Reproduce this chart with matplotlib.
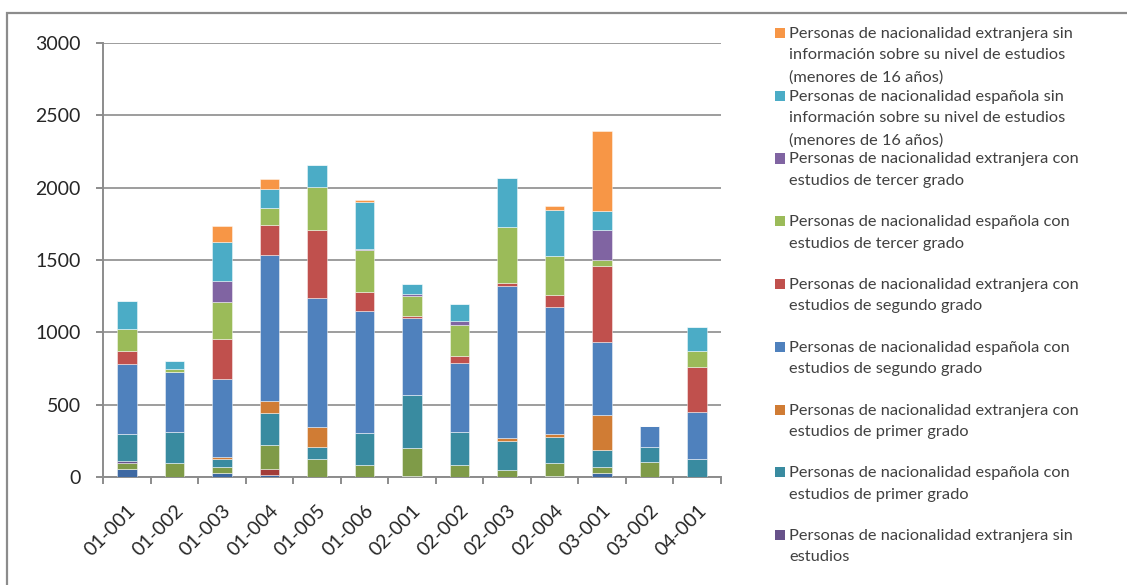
import matplotlib
matplotlib.use("Agg")
import matplotlib.pyplot as plt
from matplotlib.patches import Rectangle
import numpy as np

plt.rcParams['font.family'] = ['Lato', 'DejaVu Sans']

categories = ['01-001', '01-002', '01-003', '01-004', '01-005', '01-006', '02-001',
              '02-002', '02-003', '02-004', '03-001', '03-002', '04-001']

# Population by nationality and education level (stacked bottom to top)
esp_analf   = [53, 3, 30, 15, 0, 0, 9, 0, 0, 9, 30, 0, 0]
ext_analf   = [0, 0, 0, 38, 0, 0, 0, 0, 0, 0, 0, 0, 0]
esp_sin     = [45, 92, 41, 168, 126, 81, 189, 81, 48, 85, 41, 106, 0]
ext_sin     = [14, 0, 0, 0, 0, 0, 0, 0, 0, 0, 0, 0, 0]
esp_primer  = [184, 215, 51, 218, 83, 220, 372, 231, 200, 184, 115, 103, 122]
ext_primer  = [0, 0, 16, 87, 138, 0, 0, 0, 21, 16, 242, 0, 0]
esp_segundo = [488, 414, 536, 1010, 892, 846, 529, 474, 1048, 881, 505, 143, 328]
ext_segundo = [87, 0, 280, 204, 471, 131, 16, 49, 23, 80, 524, 0, 311]
esp_tercer  = [150, 20, 253, 120, 297, 288, 138, 215, 386, 274, 44, 0, 110]
ext_tercer  = [0, 0, 147, 0, 0, 8, 14, 31, 0, 0, 207, 0, 0]
esp_menores = [195, 60, 272, 131, 153, 326, 66, 112, 341, 317, 133, 0, 166]
ext_menores = [0, 0, 110, 71, 0, 16, 0, 0, 0, 30, 550, 0, 0]

series = [esp_analf, ext_analf, esp_sin, ext_sin, esp_primer, ext_primer,
          esp_segundo, ext_segundo, esp_tercer, ext_tercer, esp_menores, ext_menores]

labels = [
    "Personas de nacionalidad española\nanalfabetas",
    "Personas de nacionalidad extranjera\nanalfabetas",
    "Personas de nacionalidad española sin\nestudios",
    "Personas de nacionalidad extranjera sin\nestudios",
    "Personas de nacionalidad española con\nestudios de primer grado",
    "Personas de nacionalidad extranjera con\nestudios de primer grado",
    "Personas de nacionalidad española con\nestudios de segundo grado",
    "Personas de nacionalidad extranjera con\nestudios de segundo grado",
    "Personas de nacionalidad española con\nestudios de tercer grado",
    "Personas de nacionalidad extranjera con\nestudios de tercer grado",
    "Personas de nacionalidad española sin\ninformación sobre su nivel de estudios\n(menores de 16 años)",
    "Personas de nacionalidad extranjera sin\ninformación sobre su nivel de estudios\n(menores de 16 años)",
]

colors = ['#3D68A2', '#A33D3A', '#7F9B48', '#67528A', '#398BA0', '#D07C34',
          '#4F81BD', '#C0504D', '#9BBB59', '#8064A2', '#4BACC6', '#F79646']

W, H = 1127, 585
fig = plt.figure(figsize=(W / 100, H / 100), dpi=100)
fig.patch.set_facecolor('white')

# outer chart frame (runs past the right and bottom edges)
fig.patches.append(Rectangle((7 / W, -0.2), 1.5, 1 - 13 / H + 0.2,
                             transform=fig.transFigure, fill=False,
                             edgecolor='#8C8C8C', linewidth=1.6))

ax = fig.add_axes([103 / W, 1 - 477 / H, (721 - 103) / W, (477 - 43) / H])
x = np.arange(len(categories))
bottom = np.zeros(len(categories))
for vals, col in zip(series, colors):
    v = np.array(vals, dtype=float)
    ax.bar(x, v, width=0.41, bottom=bottom, color=col,
           edgecolor=(1, 1, 1, 0.45), linewidth=0.7, zorder=3)
    bottom += v

ax.set_xlim(-0.5, len(categories) - 0.5)
ax.set_ylim(0, 3000)
ax.set_yticks(np.arange(0, 3001, 500))
ax.yaxis.grid(True, color='#8C8C8C', linewidth=1.2, zorder=0)
ax.set_axisbelow(True)

for s in ['top', 'right']:
    ax.spines[s].set_visible(False)
for s in ['left', 'bottom']:
    ax.spines[s].set_color('#8C8C8C')
    ax.spines[s].set_linewidth(1.4)

ax.set_xticks(x)
ax.set_xticklabels(categories, rotation=45, ha='right', va='top',
                   rotation_mode='anchor', fontsize=14, color='#262626')
ax.set_xticks(np.arange(-0.5, len(categories)), minor=True)
ax.tick_params(axis='x', which='major', length=0, pad=18)
ax.tick_params(axis='x', which='minor', length=5, width=1.4, color='#8C8C8C')
ax.tick_params(axis='y', length=5, width=1.4, color='#8C8C8C',
               labelsize=14, labelcolor='#262626', pad=11)

# legend, top entry = last stacked series; entries below the frame edge are not shown
for i, (lab, col) in enumerate(zip(labels[::-1], colors[::-1])):
    yc = 33 + 62.75 * i
    if yc + 12 > H:
        break
    fig.patches.append(Rectangle((775 / W, 1 - (yc + 5) / H), 10 / W, 10 / H,
                                 transform=fig.transFigure, facecolor=col,
                                 edgecolor='none'))
    fig.text(789 / W, 1 - (yc - 6) / H, lab, ha='left', va='top',
             fontsize=11.8, color='#404040', linespacing=1.68)

fig.savefig('out.png', dpi=100, facecolor='white')
